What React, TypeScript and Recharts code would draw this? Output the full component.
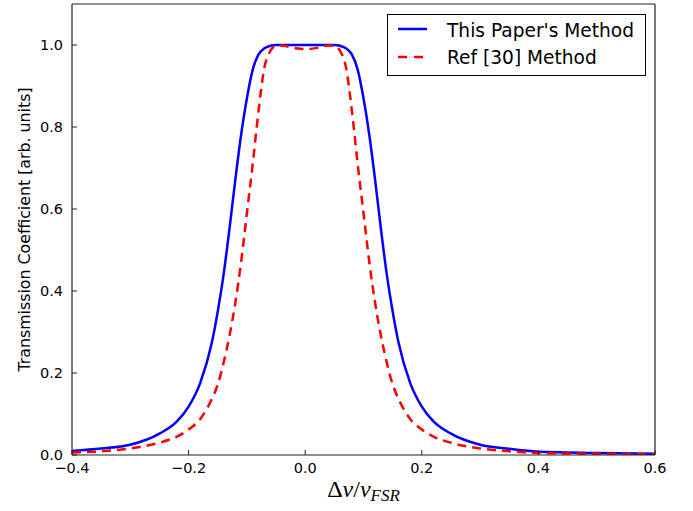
import React from "react";
import { LineChart, Line, XAxis, YAxis, Legend } from "recharts";

// detuning (normalised to FSR)
const detuning = [
  -0.4, -0.35, -0.3, -0.25, -0.22, -0.2, -0.18, -0.16, -0.15, -0.14, -0.13, -0.12, -0.11, -0.1,
  -0.09, -0.08, -0.07, -0.06, -0.05, -0.04, -0.02, 0, 0.02, 0.04, 0.05, 0.06, 0.07, 0.08, 0.09,
  0.1, 0.11, 0.12, 0.13, 0.14, 0.15, 0.16, 0.18, 0.2, 0.22, 0.25, 0.3, 0.35, 0.4, 0.5, 0.6,
];

const thisPaper = [
  0.01, 0.016, 0.025, 0.052, 0.082, 0.118, 0.176, 0.275, 0.35, 0.44, 0.55, 0.67, 0.78, 0.87,
  0.94, 0.977, 0.992, 0.998, 1.0, 1.0, 1.0, 1.0, 1.0, 1.0, 1.0, 0.998, 0.992, 0.977, 0.94,
  0.87, 0.78, 0.67, 0.55, 0.44, 0.35, 0.275, 0.176, 0.118, 0.082, 0.052, 0.025, 0.015, 0.008, 0.005, 0.003,
];

const ref30 = [
  0.006, 0.009, 0.016, 0.03, 0.045, 0.062, 0.088, 0.137, 0.172, 0.225, 0.29, 0.37, 0.47, 0.59,
  0.71, 0.84, 0.945, 0.985, 0.998, 0.999, 0.993, 0.99, 0.993, 0.999, 0.998, 0.985, 0.945, 0.84, 0.71,
  0.59, 0.47, 0.37, 0.29, 0.225, 0.172, 0.137, 0.088, 0.062, 0.045, 0.03, 0.016, 0.009, 0.005, 0.003, 0.002,
];

const xTicks = [-0.4, -0.2, 0, 0.2, 0.4, 0.6];
const yTicks = [0, 0.2, 0.4, 0.6, 0.8, 1.0];

const data = detuning.map((x, i) => ({ x, paper: thisPaper[i], ref: ref30[i] }));

const FONT = "'DejaVu Sans', sans-serif";
const AXIS = "#222";

const fmt = (v: number) => v.toFixed(1).replace("-", "\u2212");

const BottomTick = (props: any) => {
  const { x, y, payload } = props;
  return (
    <g>
      <line x1={x} y1={y} x2={x} y2={y - 5} stroke={AXIS} />
      <text x={x} y={y + 18} textAnchor="middle" fontFamily={FONT} fontSize={14.5} fill="#000">
        {fmt(payload.value)}
      </text>
    </g>
  );
};

const LeftTick = (props: any) => {
  const { x, y, payload } = props;
  return (
    <g>
      <line x1={x} y1={y} x2={x + 5} y2={y} stroke={AXIS} />
      <text x={x - 9} y={y + 5} textAnchor="end" fontFamily={FONT} fontSize={14.5} fill="#000">
        {fmt(payload.value)}
      </text>
    </g>
  );
};

const XLabel = (props: any) => {
  const { viewBox } = props;
  const cx = viewBox.x + viewBox.width / 2;
  return (
    <text x={cx} y={497} textAnchor="middle" fontFamily="'Liberation Serif', serif" fontSize={24} fill="#000">
      Δ<tspan fontStyle="italic">ν</tspan>/<tspan fontStyle="italic">ν</tspan>
      <tspan fontStyle="italic" fontSize={17} dy={4}>FSR</tspan>
    </text>
  );
};

const YLabel = (props: any) => {
  const { viewBox } = props;
  const cy = viewBox.y + viewBox.height / 2;
  return (
    <text
      x={30}
      y={cy}
      transform={`rotate(-90, 30, ${cy})`}
      textAnchor="middle"
      fontFamily={FONT}
      fontSize={15.8}
      fill="#000"
    >
      Transmission Coefficient [arb. units]
    </text>
  );
};

const LegendBox = () => (
  <svg width={259} height={62} style={{ display: "block" }}>
    <rect x={0.5} y={0.5} width={258} height={61} fill="#fff" stroke="#000" />
    <line x1={11} y1={15} x2={40} y2={15} stroke="#0000ff" strokeWidth={2.5} />
    <text x={60} y={23} fontFamily={FONT} fontSize={18.6} fill="#000">
      This Paper's Method
    </text>
    <line x1={11} y1={43} x2={38} y2={43} stroke="#ff0000" strokeWidth={2.5} strokeDasharray="9 7" />
    <text x={60} y={50} fontFamily={FONT} fontSize={18.6} fill="#000">
      Ref [30] Method
    </text>
  </svg>
);

const App: React.FC = () => (
  <div style={{ position: "absolute", left: 0, top: 0, background: "#fff" }}>
    <LineChart width={693} height={511} data={data} margin={{ top: 4, right: 38, bottom: 0, left: 0 }}>
      <XAxis
        dataKey="x"
        type="number"
        domain={[-0.4, 0.6]}
        ticks={xTicks}
        height={56}
        tickSize={0}
        tickMargin={0}
        tickLine={false}
        tick={<BottomTick />}
        axisLine={{ stroke: AXIS, strokeWidth: 1.2 }}
        label={(p: any) => <XLabel {...p} />}
        allowDataOverflow
      />
      <XAxis
        xAxisId="top"
        orientation="top"
        dataKey="x"
        type="number"
        domain={[-0.4, 0.6]}
        ticks={xTicks}
        height={1}
        mirror
        tick={false}
        tickSize={5}
        tickLine={{ stroke: AXIS }}
        axisLine={{ stroke: AXIS, strokeWidth: 1.2 }}
      />
      <YAxis
        type="number"
        domain={[0, 1.1]}
        ticks={yTicks}
        width={72}
        tickSize={0}
        tickMargin={0}
        tickLine={false}
        tick={<LeftTick />}
        axisLine={{ stroke: AXIS, strokeWidth: 1.2 }}
        label={(p: any) => <YLabel {...p} />}
        allowDataOverflow
      />
      <YAxis
        yAxisId="right"
        orientation="right"
        type="number"
        domain={[0, 1.1]}
        ticks={yTicks}
        width={1}
        mirror
        tick={false}
        tickSize={5}
        tickLine={{ stroke: AXIS }}
        axisLine={{ stroke: AXIS, strokeWidth: 1.2 }}
      />
      <Line
        type="monotone"
        dataKey="paper"
        stroke="#0000ff"
        strokeWidth={2.5}
        dot={false}
        activeDot={false}
        isAnimationActive={false}
      />
      <Line
        type="monotone"
        dataKey="ref"
        stroke="#ff0000"
        strokeWidth={2.5}
        strokeDasharray="9 6"
        dot={false}
        activeDot={false}
        isAnimationActive={false}
      />
      <Legend
        layout="vertical"
        align="center"
        verticalAlign="middle"
        wrapperStyle={{ left: 387, top: 14, width: 259, height: 62 }}
        content={() => <LegendBox />}
      />
    </LineChart>
  </div>
);

export default App;
